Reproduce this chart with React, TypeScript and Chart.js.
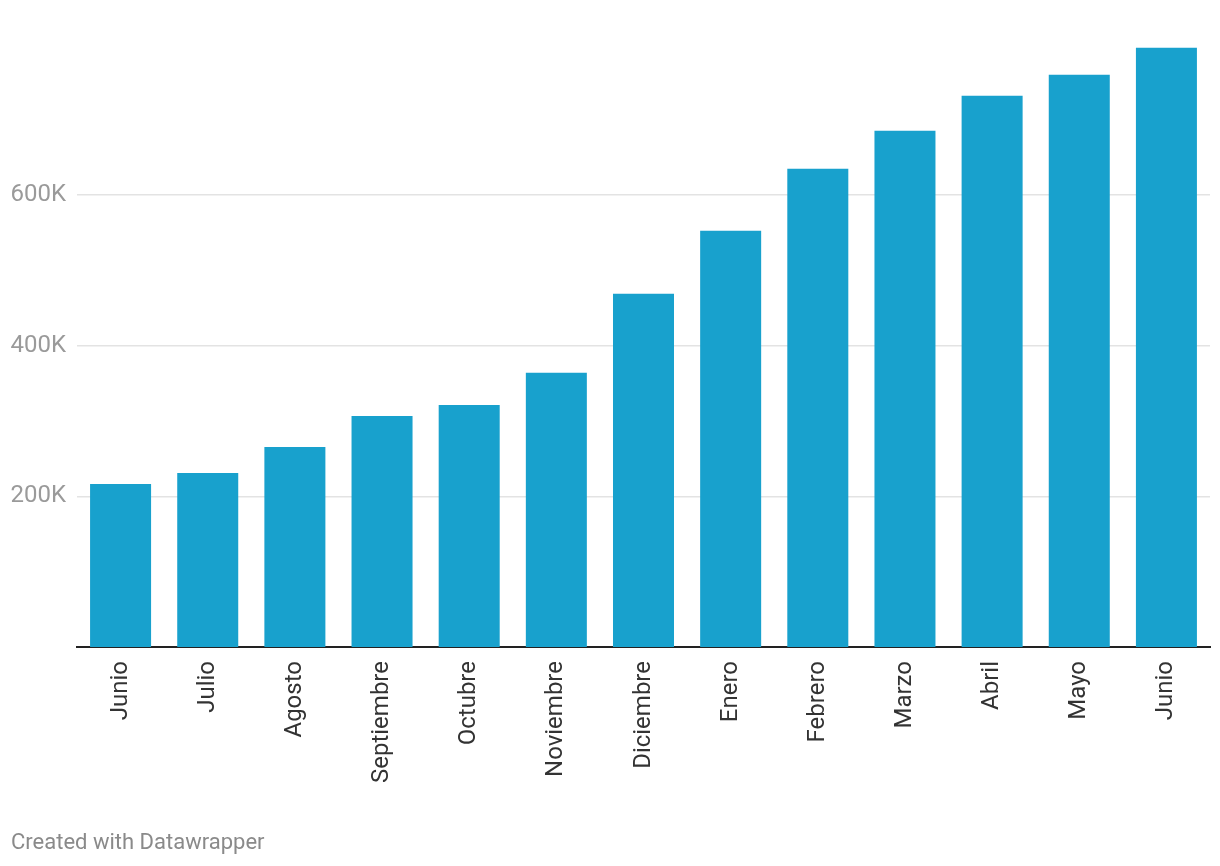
import React, { useEffect, useRef } from "react";
import { Chart, registerables } from "chart.js";

Chart.register(...registerables);

const categories = [
  "Junio", "Julio", "Agosto", "Septiembre", "Octubre", "Noviembre", "Diciembre",
  "Enero", "Febrero", "Marzo", "Abril", "Mayo", "Junio",
];
const values = [
  216400, 231000, 265500, 306600, 321200, 363700, 468600,
  552200, 634500, 685000, 731400, 759300, 795100,
];
const yTicks = [200000, 400000, 600000];
const yTickLabels = ["200K", "400K", "600K"];
const yMax = 800000;
const footerText = "Created with Datawrapper";

export default function App() {
  const ref = useRef<HTMLCanvasElement | null>(null);

  useEffect(() => {
    if (!ref.current) return;
    const chart = new Chart(ref.current, {
      type: "bar",
      data: {
        labels: categories,
        datasets: [
          {
            data: values,
            backgroundColor: "#18a1cd",
            barPercentage: 0.7,
            categoryPercentage: 1,
          },
        ],
      },
      options: {
        animation: false,
        responsive: false,
        layout: { padding: { top: 44, left: 11, right: 10, bottom: 0 } },
        plugins: {
          legend: { display: false },
          tooltip: { enabled: false },
        },
        scales: {
          x: {
            grid: { display: false, drawTicks: false },
            border: { display: true, color: "#222", width: 2 },
            ticks: {
              color: "#333",
              font: { family: "Roboto", size: 24 },
              maxRotation: 90,
              minRotation: 90,
              padding: 14,
              autoSkip: false,
            },
            afterFit: (scale: any) => {
              scale.height = 219;
            },
          },
          y: {
            min: 0,
            max: yMax,
            grid: { color: "#e3e3e3", lineWidth: 1.5, drawTicks: false },
            border: { display: false },
            afterBuildTicks: (scale: any) => {
              scale.ticks = yTicks.map((v) => ({ value: v }));
            },
            ticks: {
              color: "#9a9a9a",
              font: { family: "Roboto", size: 24, lineHeight: 1.0 },
              padding: 11,
              callback: (v: any) => {
                const i = yTicks.indexOf(Number(v));
                return i >= 0 ? yTickLabels[i] : "";
              },
            },
            afterFit: (scale: any) => {
              scale.width = 66;
            },
          },
        },
      },
    });
    return () => chart.destroy();
  }, []);

  return (
    <div
      style={{
        position: "absolute",
        left: 0,
        top: 0,
        width: 1220,
        height: 866,
        background: "#fff",
      }}
    >
      <canvas ref={ref} width={1220} height={866} />
      <div
        style={{
          position: "absolute",
          left: 11,
          top: 829,
          fontFamily: "Roboto",
          fontSize: 22,
          color: "#8a8a8a",
          lineHeight: "26px",
        }}
      >
        {footerText}
      </div>
    </div>
  );
}
